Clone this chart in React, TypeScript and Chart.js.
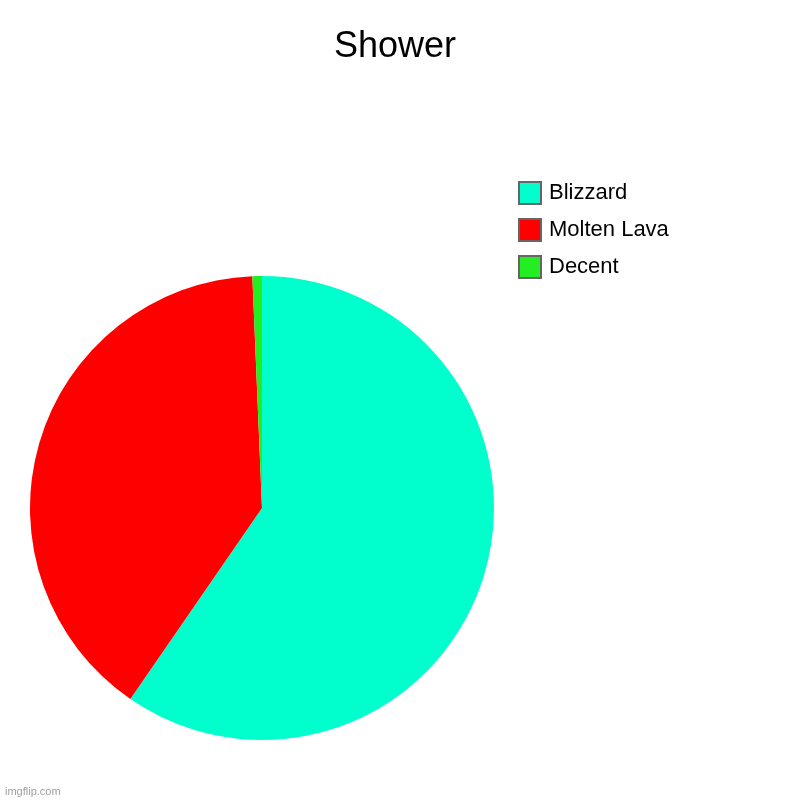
import { useEffect, useRef } from "react";
import { Chart, registerables } from "chart.js";

Chart.register(...registerables);

// --- data ---
const labels = ["Blizzard", "Molten Lava", "Decent"];
const values = [90, 60, 1];
const colors = ["#00FFCC", "#FF0000", "#22EE22"];
const title = "Shower";
const watermark = "imgflip.com";

const FONT = "'Liberation Sans', Arial, sans-serif";

// title over the canvas, legend at top-right like imgflip does
const frame = {
  id: "frame",
  afterDraw(chart: any) {
    const ctx = chart.ctx;
    const ds = chart.data.datasets[0];
    ctx.save();
    ctx.font = `36px ${FONT}`;
    ctx.fillStyle = "#000000";
    ctx.textAlign = "center";
    ctx.textBaseline = "middle";
    ctx.fillText(title, chart.width / 2 - 5, 47);

    ctx.font = `22px ${FONT}`;
    ctx.textAlign = "left";
    (chart.data.labels as string[]).forEach((lab, i) => {
      const y = 181 + i * 37;
      ctx.fillStyle = ds.backgroundColor[i];
      ctx.fillRect(519, y + 1, 22, 22);
      ctx.strokeStyle = "#666666";
      ctx.lineWidth = 2;
      ctx.strokeRect(519, y + 1, 22, 22);
      ctx.fillStyle = "#000000";
      ctx.fillText(lab, 549, y + 12);
    });
    // watermark
    ctx.font = `11px ${FONT}`;
    ctx.fillStyle = "#a0a0a0";
    ctx.textBaseline = "alphabetic";
    ctx.fillText(watermark, 5, 795);
    ctx.restore();
  },
};

export default function App() {
  const canvasRef = useRef<HTMLCanvasElement>(null);

  useEffect(() => {
    document.body.style.margin = "0";
    const chart = new Chart(canvasRef.current!, {
      type: "pie",
      data: {
        labels,
        datasets: [
          {
            data: values,
            backgroundColor: colors,
            borderWidth: 0,
          },
        ],
      },
      options: {
        animation: false,
        responsive: true,
        maintainAspectRatio: false,
        layout: { padding: { left: 30, right: 306, top: 276, bottom: 60 } },
        plugins: {
          legend: { display: false },
          tooltip: { enabled: false },
          title: { display: false },
        },
      },
      plugins: [frame],
    });
    return () => chart.destroy();
  }, []);

  return (
    <div style={{ position: "absolute", left: 0, top: 0, width: 800, height: 800, background: "#fff" }}>
      <canvas ref={canvasRef}></canvas>
    </div>
  );
}
